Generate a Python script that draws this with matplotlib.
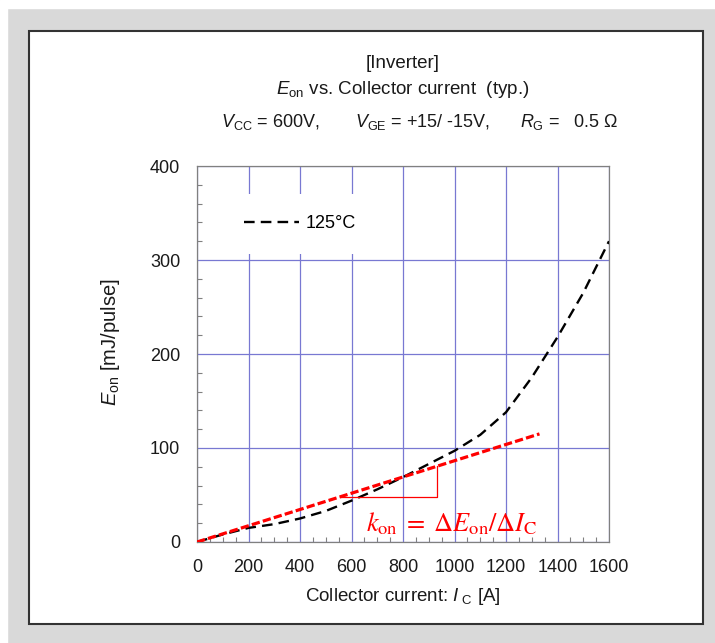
"""E_on vs. collector current (typ.) for the inverter IGBT, with k_on slope."""

import matplotlib

matplotlib.use("Agg")
import matplotlib.pyplot as plt
from matplotlib.patches import Rectangle
from matplotlib.ticker import MultipleLocator

# curve, 125 degC
ic_125 = [0, 100, 200, 300, 400, 500, 600, 700, 800, 900, 1000, 1100, 1200, 1300, 1400, 1500, 1600]
eon_125 = [0, 8, 15, 19, 25, 33, 44, 56, 69, 83, 97, 114, 138, 175, 218, 265, 320]

# linear approximation (red dashed) and the slope triangle
kon_x = [0, 1330]
kon_y = [0, 115]
tri_x = [555, 931, 931]
tri_y = [48, 48, 80.5]

x_ticks = [0, 200, 400, 600, 800, 1000, 1200, 1400, 1600]
y_ticks = [0, 100, 200, 300, 400]

plt.rcParams.update({
    "font.family": "Liberation Sans",
    "mathtext.fontset": "custom",
    "mathtext.rm": "Liberation Sans",
    "mathtext.it": "Liberation Sans:italic",
})

W, H = 715, 643
TXT = "#1a1a1a"
fig = plt.figure(figsize=(W / 100, H / 100), dpi=100, facecolor="#d9d9d9")

# white margins and panel
fig.patches.append(Rectangle((0, 0), 7 / W, 1, transform=fig.transFigure, color="white", zorder=-2))
fig.patches.append(Rectangle((0, 1 - 8 / H), 1, 8 / H, transform=fig.transFigure, color="white", zorder=-2))
fig.patches.append(Rectangle((29 / W, 1 - 624 / H), (703 - 29) / W, (624 - 31) / H,
                             transform=fig.transFigure, facecolor="white",
                             edgecolor="#333333", lw=1.5, zorder=-1))

ax = fig.add_axes([197 / W, 1 - 542 / H, (609 - 197) / W, (542 - 166) / H])
ax.set_zorder(1)

ax.plot(ic_125, eon_125, color="black", lw=1.7, dashes=(4.5, 2.6), label="125°C", zorder=3)
ax.plot(kon_x, kon_y, color="red", lw=2.3, dashes=(2.6, 1.0), zorder=4)
ax.plot(tri_x, tri_y, color="red", lw=0.9, zorder=4)

ax.text(656, 11.5, r"$k_{\rm on}\;=\;\Delta E_{\rm on}/\Delta I_{\rm C}$", color="red",
        fontsize=19, math_fontfamily="stix", ha="left", va="baseline", zorder=5)

ax.set_xlim(0, 1600)
ax.set_ylim(0, 400)
ax.set_xticks(x_ticks)
ax.set_yticks(y_ticks)
ax.xaxis.set_minor_locator(MultipleLocator(50))
ax.yaxis.set_minor_locator(MultipleLocator(20))
ax.grid(True, which="major", color="#7878d2", lw=0.9, zorder=1)
ax.tick_params(which="both", direction="in", colors="#808080", labelcolor=TXT,
               labelsize=13)
ax.tick_params(which="major", length=0)
ax.tick_params(which="minor", length=3.5, width=0.8)
ax.tick_params(axis="x", pad=12)
ax.tick_params(axis="y", pad=12)
for sp in ax.spines.values():
    sp.set_color("#808080")
    sp.set_linewidth(0.9)

ax.set_xlabel(r"Collector current: $I_{\rm\ C}$ [A]", fontsize=13.5, color=TXT)
ax.set_ylabel(r"$E_{\rm on}$ [mJ/pulse]", fontsize=14.5, color=TXT)
ax.xaxis.set_label_coords(0.5, -0.118)
ax.yaxis.set_label_coords(-0.182, 0.532)

leg = ax.legend(loc="center left", bbox_to_anchor=(0.061, 0.846), borderaxespad=0,
                borderpad=1.2, handlelength=3.05, handletextpad=0.4, fontsize=13,
                frameon=True, fancybox=False)
leg.get_frame().set_facecolor("white")
leg.get_frame().set_edgecolor("none")
leg.get_frame().set_alpha(1)

cx = 403 / W
fig.text(cx, 1 - 64 / H, "[Inverter]", ha="center", va="center", fontsize=13.5, color=TXT)
fig.text(cx, 1 - 90 / H, r"$E_{\rm on}$ vs. Collector current  (typ.)", ha="center",
         va="center", fontsize=13.5, color=TXT)
fig.text(221 / W, 1 - 122 / H, r"$V_{\rm CC}$ = 600V,", ha="left", va="center",
         fontsize=13, color=TXT)
fig.text(355 / W, 1 - 122 / H, r"$V_{\rm GE}$ = +15/ -15V,", ha="left", va="center",
         fontsize=13, color=TXT)
fig.text(520 / W, 1 - 122 / H, r"$R_{\rm G}$ =   0.5 Ω", ha="left", va="center",
         fontsize=13, color=TXT)

fig.savefig("out.png", dpi=100, facecolor=fig.get_facecolor())
